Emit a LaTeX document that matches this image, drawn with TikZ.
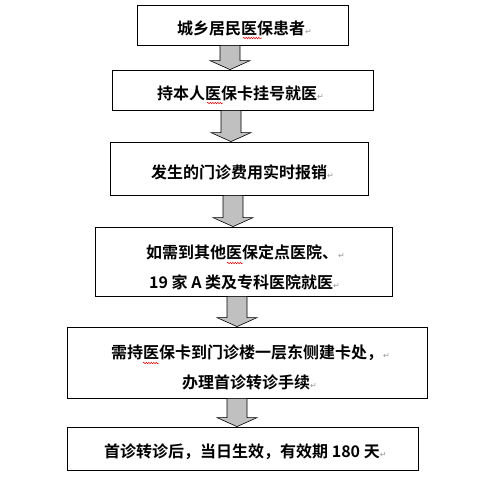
\documentclass[tikz,border=0pt]{standalone}
\usepackage{fontspec}
\newfontfamily\cjk{Noto Sans CJK SC Bold}
\newfontfamily\sym{DejaVu Sans}
\usetikzlibrary{calc,decorations.pathmorphing}
\definecolor{arrowgray}{HTML}{C0C0C0}
\newcommand\retmark{{\sym\fontsize{8}{8}\selectfont\color{black!40}↵}}
\tikzset{
  box/.style={draw=black, line width=0.8pt, inner sep=0pt},
  txt/.style={inner sep=0pt, font=\cjk\fontsize{16}{16}\selectfont},
  barrow/.style={draw=black, line width=0.6pt, fill=arrowgray, line join=miter},
  squiggle/.style={draw=red!85!black, line width=0.5pt, decorate,
    decoration={snake, segment length=2.5pt, amplitude=0.7pt}}
}
\newcommand\blockarrow[3]{%
  \draw[barrow] let \p1=(#1.south), \p2=(#2.north) in
    ({#3pt-10pt},\y1) -- ({#3pt-10pt},{\y2+9pt}) -- ({#3pt-20pt},{\y2+9pt})
    -- (#3pt,\y2) -- ({#3pt+20pt},{\y2+9pt}) -- ({#3pt+10pt},{\y2+9pt})
    -- ({#3pt+10pt},\y1) -- cycle;}
\begin{document}
\begin{tikzpicture}[x=1pt,y=-1pt]
\useasboundingbox (0,0) rectangle (489,483);
\fill[white] (0,0) rectangle (489,483);
% boxes
\node[box, minimum width=211pt, minimum height=40pt] (b1) at (242.5,25) {};
\node[box, minimum width=261pt, minimum height=40pt] (b2) at (242.5,90) {};
\node[box, minimum width=258pt, minimum height=53pt] (b3) at (239,168.5) {};
\node[box, minimum width=297pt, minimum height=69pt] (b4) at (243.5,261.5) {};
\node[box, minimum width=360pt, minimum height=71pt] (b5) at (247,362.5) {};
\node[box, minimum width=351pt, minimum height=43pt] (b6) at (242.5,448.5) {};
% arrows
\blockarrow{b1}{b2}{230}
\blockarrow{b2}{b3}{231}
\blockarrow{b3}{b4}{233}
\blockarrow{b4}{b5}{237}
\blockarrow{b5}{b6}{237}
% texts
\node[txt, anchor=base west] (t1) at (177,34) {城乡居民医保患者\retmark};
\node[txt, anchor=base west] (t2) at (157,99) {持本人医保卡挂号就医\retmark};
\node[txt, anchor=base west] (t3) at (151,178) {发生的门诊费用实时报销\retmark};
\node[txt, anchor=base west] (t4a) at (146,258) {如需到其他医保定点医院、\retmark};
\node[txt, anchor=base west] (t4b) at (149,288) {19 家 A 类及专科医院就医\retmark};
\node[txt, anchor=base west] (t5a) at (111,358) {需持医保卡到门诊楼一层东侧建卡处，\retmark};
\node[txt, anchor=base west] (t5b) at (182,388) {办理首诊转诊手续\retmark};
\node[txt, anchor=base west] (t6) at (104,457) {首诊转诊后，当日生效，有效期 180 天\retmark};
% spell-check underlines
\draw[squiggle] (243,38) -- (262,38);
\draw[squiggle] (207,103) -- (223,103);
\draw[squiggle] (227,263) -- (243,263);
\draw[squiggle] (143,363) -- (159,363);
\end{tikzpicture}
\end{document}
